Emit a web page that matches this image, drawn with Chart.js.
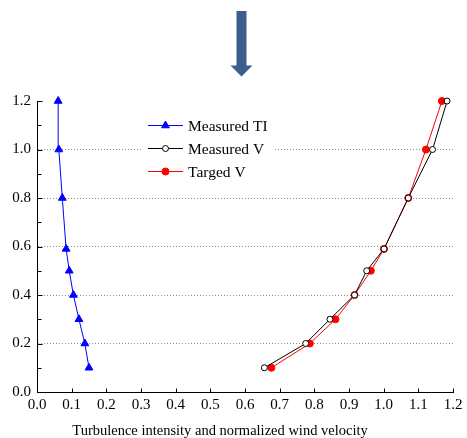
<!DOCTYPE html>
<html>
<head>
<meta charset="utf-8">
<script src="https://cdn.jsdelivr.net/npm/chart.js@4.4.1/dist/chart.umd.min.js"></script>
<style>
  html, body { margin: 0; padding: 0; background: #ffffff; }
  #wrap { width: 467px; height: 438px; }
</style>
</head>
<body>
<div id="wrap"><canvas id="c" width="467" height="438"></canvas></div>
<script>
// ---- data ----
const heights    = [0.1, 0.2, 0.3, 0.4, 0.5, 0.59, 0.8, 1.0, 1.2];
const measuredTI = [0.150, 0.138, 0.121, 0.105, 0.093, 0.084, 0.073, 0.063, 0.061];
const measuredV  = [0.656, 0.775, 0.845, 0.916, 0.951, 1.001, 1.071, 1.141, 1.183];
const targetV    = [0.676, 0.787, 0.861, 0.916, 0.963, 1.001, 1.071, 1.122, 1.168];
const seriesNames = ['Measured TI', 'Measured V', 'Targed V'];
const xTitle = 'Turbulence intensity and normalized wind velocity';
const xMin = 0, xMax = 1.2, xStep = 0.1;
const yMin = 0, yMax = 1.2, yStep = 0.2;

const FONT = '"Liberation Serif", "Times New Roman", Times, serif';
const toPts = (xs) => heights.map((h, i) => ({ x: xs[i], y: h }));

// Decorative down arrow above the plot
const arrowPlugin = {
  id: 'arrow',
  afterDraw(chart) {
    const ctx = chart.ctx;
    ctx.save();
    ctx.fillStyle = '#3b5e8c';
    ctx.fillRect(236.5, 11, 10, 55);
    ctx.beginPath();
    ctx.moveTo(230.5, 65.5);
    ctx.lineTo(252.5, 65.5);
    ctx.lineTo(241.5, 76.5);
    ctx.closePath();
    ctx.fill();
    ctx.restore();
  }
};

// Inward tick marks (major + minor on y)
const inwardTicks = {
  id: 'inwardTicks',
  afterDraw(chart) {
    const ctx = chart.ctx;
    const xs = chart.scales.x, ys = chart.scales.y;
    const area = chart.chartArea;
    ctx.save();
    ctx.strokeStyle = '#000';
    ctx.lineWidth = 1;
    ctx.beginPath();
    const L = Math.round(area.left) + 0.5;
    const B = Math.round(area.bottom) + 0.5;
    const yt = ys.ticks.map(t => ys.getPixelForValue(t.value));
    yt.forEach((p, i) => {
      const py = Math.round(p) + 0.5;
      ctx.moveTo(L, py); ctx.lineTo(L + 5, py);
      if (i < yt.length - 1) {
        const m = Math.round((p + yt[i + 1]) / 2) + 0.5;
        ctx.moveTo(L, m); ctx.lineTo(L + 4, m);
      }
    });
    xs.ticks.forEach(t => {
      const px = Math.round(xs.getPixelForValue(t.value)) + 0.5;
      ctx.moveTo(px, B); ctx.lineTo(px, B - 4);
    });
    ctx.stroke();
    // x-axis title
    ctx.fillStyle = '#000';
    ctx.font = '14.5px ' + FONT;
    ctx.textAlign = 'center';
    ctx.textBaseline = 'alphabetic';
    ctx.fillText(xTitle, 220, 435);
    ctx.restore();
  }
};

// Legend drawn inside the plot area
const innerLegend = {
  id: 'innerLegend',
  afterDraw(chart) {
    const ctx = chart.ctx;
    ctx.save();
    ctx.fillStyle = '#ffffff';
    ctx.fillRect(143, 113, 130, 70);
    chart.data.datasets.forEach((ds, i) => {
      const y = 125 + i * 23;
      ctx.strokeStyle = ds.borderColor;
      ctx.lineWidth = 1;
      ctx.beginPath();
      ctx.moveTo(148, y + 0.5); ctx.lineTo(183, y + 0.5);
      ctx.stroke();
      ctx.fillStyle = ds.pointBackgroundColor;
      ctx.strokeStyle = ds.borderColor;
      Chart.helpers.drawPoint(ctx, {
        pointStyle: ds.pointStyle, radius: ds.pointRadius, rotation: 0, borderWidth: 1
      }, 165.5, y + 0.5);
      ctx.fillStyle = '#000';
      ctx.font = '15.5px ' + FONT;
      ctx.textBaseline = 'alphabetic';
      ctx.textAlign = 'left';
      ctx.fillText(ds.label, 188, y + 5.5);
    });
    ctx.restore();
  }
};

new Chart(document.getElementById('c'), {
  type: 'scatter',
  data: {
    datasets: [
      {
        label: seriesNames[0], data: toPts(measuredTI), showLine: true, clip: false,
        borderColor: '#0000ff', backgroundColor: '#0000ff', pointBackgroundColor: '#0000ff',
        pointBorderColor: '#0000ff', pointStyle: 'triangle', pointRadius: 4.5, borderWidth: 1, pointBorderWidth: 1
      },
      {
        label: seriesNames[1], data: toPts(measuredV), showLine: true, clip: false,
        borderColor: '#000000', backgroundColor: '#ffffff', pointBackgroundColor: '#ffffff',
        pointBorderColor: '#000000', pointStyle: 'circle', pointRadius: 3, borderWidth: 1, pointBorderWidth: 1
      },
      {
        label: seriesNames[2], data: toPts(targetV), showLine: true, clip: false,
        borderColor: '#ff0000', backgroundColor: '#ff0000', pointBackgroundColor: '#ff0000',
        pointBorderColor: '#ff0000', pointStyle: 'circle', pointRadius: 3.5, borderWidth: 1, pointBorderWidth: 1
      }
    ]
  },
  options: {
    responsive: false,
    animation: false,
    devicePixelRatio: 1,
    layout: { padding: { top: 101, right: 14, left: 0, bottom: 0 } },
    plugins: { legend: { display: false }, tooltip: { enabled: false } },
    scales: {
      x: {
        type: 'linear', min: xMin, max: xMax,
        afterFit(s) { s.height = 46; },
        ticks: {
          stepSize: xStep, autoSkip: false, maxRotation: 0, padding: 4,
          color: '#000', font: { family: FONT, size: 15 },
          callback: v => Number(v).toFixed(1)
        },
        grid: { display: false, drawTicks: false },
        border: { display: true, color: '#000', width: 1 },
        title: { display: false }
      },
      y: {
        type: 'linear', min: yMin, max: yMax,
        afterFit(s) { s.width = 37; },
        ticks: {
          stepSize: yStep, padding: 6,
          color: '#000', font: { family: FONT, size: 15 },
          callback: v => Number(v).toFixed(1)
        },
        grid: {
          drawTicks: false, lineWidth: 1,
          color: c => (c.tick && c.tick.value > 0.01 && c.tick.value < 1.19) ? '#8c8c8c' : 'rgba(0,0,0,0)'
        },
        border: { display: true, color: '#000', width: 1, dash: [1, 2] }
      }
    }
  },
  plugins: [inwardTicks, innerLegend, arrowPlugin]
});
</script>
</body>
</html>
